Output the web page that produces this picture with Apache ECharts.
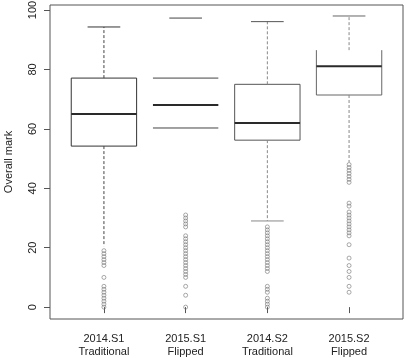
<!DOCTYPE html>
<html>
<head>
<meta charset="utf-8">
<script src="https://cdn.jsdelivr.net/npm/echarts@6/dist/echarts.min.js"></script>
<style>
  html, body { margin: 0; padding: 0; background: #fff; }
  #main { width: 408px; height: 358px; }
</style>
</head>
<body>
<div id="main"></div>
<script>
// group labels (two lines, as in the R plot)
var categories = ['2014.S1\nTraditional', '2015.S1\nFlipped', '2014.S2\nTraditional', '2015.S2\nFlipped'];

// five number summaries
var lowerWhisker = [20.5, 33, 29, 48.8];
var q1 = [54.2, 60.3, 56.2, 71.4];
var median = [65, 68, 62, 81.1];
var q3 = [77.1, 77.1, 75, 86.5];
var upperWhisker = [94.3, 97.3, 96.1, 98];

// outliers per group
var outliers = [
    [19, 18, 17, 16, 15, 14, 10, 7, 6, 5, 4, 3, 2, 1, 0],
    [31, 30, 29, 28, 27, 24, 23, 22, 21, 20, 19, 18, 17, 16, 15, 14, 13, 12, 11, 10, 7, 4, 0],
    [27, 26, 25, 24, 23, 22, 21, 20, 19, 18, 17, 16, 15, 14, 13, 12, 7, 6, 5, 3, 2, 1, 0],
    [48, 47, 46, 45, 44, 43, 42, 35, 34, 32, 31, 30, 29, 28, 27, 26, 25, 24, 21, 16.5, 14, 12, 10, 7, 5]
];

var yTicks = [0, 20, 40, 60, 80, 100];

// parts that are too faint to show in the original figure
var hiddenParts = {
    0: ['lowCap'],
    1: ['sides', 'whiskers', 'lowCap'],
    3: ['top', 'lowCap']
};
var boxColor = ['#333', '#444', '#555', '#666'];
var whiskerColor = ['#444', '#888', '#888', '#888'];

var boxData = categories.map(function (c, i) {
    return [i + 1, lowerWhisker[i], q1[i], median[i], q3[i], upperWhisker[i]];
});

var outlierData = [];
outliers.forEach(function (list, i) {
    list.forEach(function (v) { outlierData.push([i + 1, v]); });
});

function renderBox(params, api) {
    var i = params.dataIndex;
    var x = api.value(0);
    var cx = api.coord([x, 0])[0];
    var half = api.size([0.4, 0])[0];
    var staple = half / 2;
    var y = function (k) { return api.coord([x, api.value(k)])[1]; };
    var yLow = y(1), yQ1 = y(2), yMed = y(3), yQ3 = y(4), yHigh = y(5);
    var hide = hiddenParts[i] || [];
    var line = function (x1, y1, x2, y2, color, width, dash) {
        return {
            type: 'line',
            shape: { x1: x1, y1: y1, x2: x2, y2: y2 },
            style: { stroke: color, lineWidth: width, lineDash: dash || null }
        };
    };
    var col = boxColor[i];
    var wc = whiskerColor[i];
    var kids = [];
    // box
    if (hide.indexOf('top') < 0) kids.push(line(cx - half, yQ3, cx + half, yQ3, col, 1));
    kids.push(line(cx - half, yQ1, cx + half, yQ1, col, 1));
    if (hide.indexOf('sides') < 0) {
        kids.push(line(cx - half, yQ1, cx - half, yQ3, col, 1));
        kids.push(line(cx + half, yQ1, cx + half, yQ3, col, 1));
    }
    // median
    kids.push(line(cx - half, yMed, cx + half, yMed, '#2a2a2a', 2));
    // whiskers
    if (hide.indexOf('whiskers') < 0) {
        kids.push(line(cx, yQ3, cx, yHigh, wc, 1, [3, 2]));
        kids.push(line(cx, yQ1, cx, yLow, wc, 1, [3, 2]));
    }
    kids.push(line(cx - staple, yHigh, cx + staple, yHigh, col, 1));
    if (hide.indexOf('lowCap') < 0) kids.push(line(cx - staple, yLow, cx + staple, yLow, '#888', 1));
    return { type: 'group', children: kids };
}

var chart = echarts.init(document.getElementById('main'));
var option = {
    backgroundColor: '#fff',
    animation: false,
    grid: {
        show: true,
        left: 50,
        right: 5,
        top: 5,
        bottom: 39,
        outerBoundsMode: 'none',
        containLabel: false,
        borderColor: '#555',
        borderWidth: 1
    },
    xAxis: {
        type: 'value',
        min: 0.34,
        max: 4.66,
        splitLine: { show: false },
        axisLine: { show: false },
        axisTick: { show: true, length: 6, customValues: [1, 2, 3, 4], lineStyle: { color: '#555' } },
        axisLabel: {
            customValues: [1, 2, 3, 4],
            margin: 13,
            fontFamily: 'Liberation Sans',
            fontSize: 11,
            lineHeight: 13,
            color: '#222',
            formatter: function (v) { return categories[Math.round(v) - 1] || ''; }
        }
    },
    yAxis: {
        type: 'value',
        min: -4,
        max: 101.7,
        name: 'Overall mark',
        nameLocation: 'middle',
        nameRotate: 90,
        nameGap: 36,
        nameTextStyle: { fontFamily: 'Liberation Sans', fontSize: 11, color: '#222' },
        splitLine: { show: false },
        axisLine: { show: false },
        axisTick: { show: true, length: 6, customValues: yTicks, lineStyle: { color: '#555' } },
        axisLabel: {
            customValues: yTicks,
            rotate: 90,
            margin: 12,
            fontFamily: 'Liberation Sans',
            fontSize: 11,
            color: '#222'
        }
    },
    series: [
        {
            type: 'custom',
            renderItem: renderBox,
            data: boxData,
            encode: { x: 0, y: [1, 2, 3, 4, 5] },
            z: 3
        },
        {
            type: 'scatter',
            data: outlierData,
            symbol: 'circle',
            symbolSize: 4,
            itemStyle: { color: 'transparent', borderColor: '#777', borderWidth: 0.8 },
            z: 4
        }
    ]
};
chart.setOption(option);
window.addEventListener('resize', function () {
    chart.resize();
});
</script>
</body>
</html>
